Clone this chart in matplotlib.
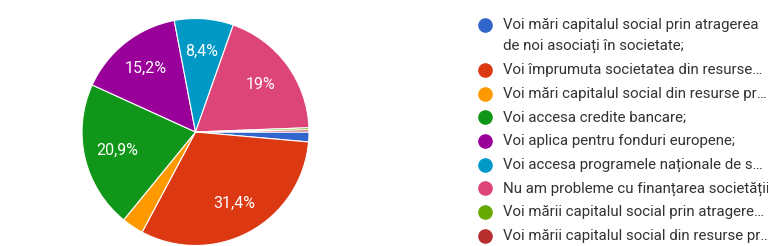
import numpy as np
import matplotlib.pyplot as plt
from matplotlib.lines import Line2D

plt.rcParams['font.family'] = ['Roboto', 'DejaVu Sans']

# raspunsuri (procente)
labels = [
    "Voi mări capitalul social prin atragerea\nde noi asociați în societate;",
    "Voi împrumuta societatea din resurse…",
    "Voi mări capitalul social din resurse pr…",
    "Voi accesa credite bancare;",
    "Voi aplica pentru fonduri europene;",
    "Voi accesa programele naționale de s…",
    "Nu am probleme cu finanțarea societății",
    "Voi mării capitalul social prin atragere…",
    "Voi mării capitalul social din resurse pr…",
]
values = [1.4, 31.4, 3.1, 20.9, 15.2, 8.4, 19.0, 0.3, 0.3]
pct_text = ["", "31,4%", "", "20,9%", "15,2%", "8,4%", "19%", "", ""]
colors = ["#3366cc", "#dc3912", "#ff9900", "#109618", "#990099",
          "#0099c6", "#dd4477", "#66aa00", "#b82e2e"]

W, H = 768, 246
fig = plt.figure(figsize=(W / 100, H / 100), dpi=100)

# pie axes: center (195.5, 114) px from bottom-left, radius 113.5 px
r = 113.5
cx, cy = 195.5, 114
ax = fig.add_axes([(cx - r) / W, (cy - r) / H, 2 * r / W, 2 * r / H])
wedges, _ = ax.pie(values, colors=colors, startangle=0, counterclock=False,
                   radius=1, wedgeprops=dict(edgecolor="white", linewidth=0.8))
ax.set_xlim(-1, 1)
ax.set_ylim(-1, 1)
ax.set_aspect("equal")
ax.axis("off")

for w, t in zip(wedges, pct_text):
    if not t:
        continue
    ang = np.deg2rad((w.theta1 + w.theta2) / 2)
    ax.text(0.71 * np.cos(ang), 0.71 * np.sin(ang), t, color="white",
            fontsize=11.5, ha="center", va="center")

# legend drawn by hand
x_dot, x_txt = 485, 503
y = 25
for lab, col in zip(labels, colors):
    fig.add_artist(Line2D([x_dot / W], [1 - y / H], marker="o", markersize=9.5,
                          color=col, linestyle="none", transform=fig.transFigure))
    lines = lab.split("\n")
    for i, ln in enumerate(lines):
        fig.text(x_txt / W, 1 - (y + i * 21.2) / H, ln, fontsize=10.8,
                 color="#333333", ha="left", va="center")
    y += 23.7 + 21.2 * (len(lines) - 1)

fig.savefig("out.png", dpi=100)
